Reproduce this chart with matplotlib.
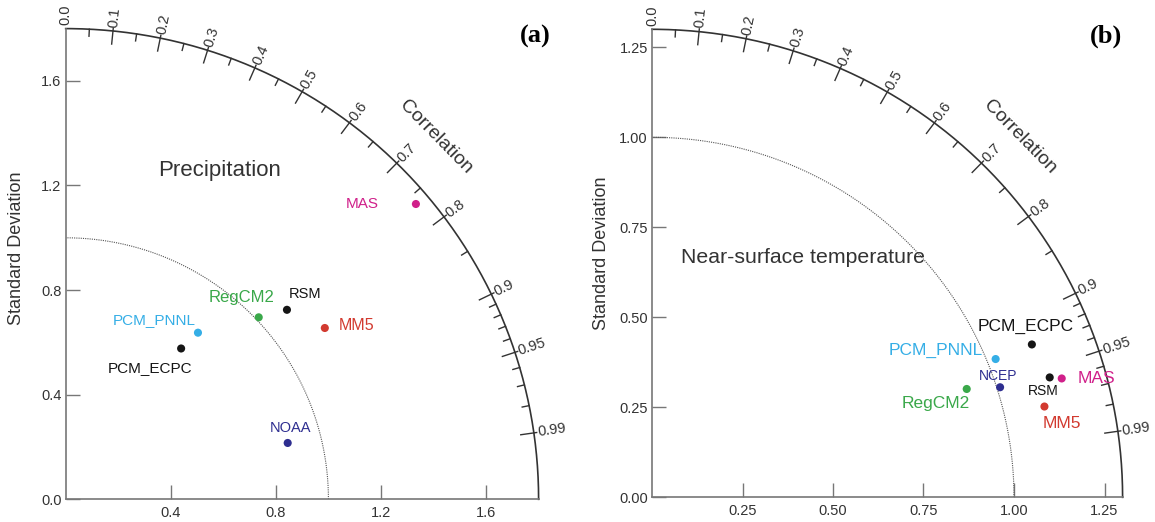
import numpy as np
import matplotlib.pyplot as plt

plt.rcParams['font.family'] = ['Liberation Sans', 'DejaVu Sans']

## panel (a): precipitation
prec_models = ['MAS', 'PCM_PNNL', 'PCM_ECPC', 'RegCM2', 'RSM', 'MM5', 'NOAA']
prec_std = [1.747, 0.812, 0.725, 1.012, 1.111, 1.184, 0.872]
prec_corr = [0.763, 0.620, 0.606, 0.726, 0.758, 0.833, 0.969]
prec_yticks = [0.0, 0.4, 0.8, 1.2, 1.6]
prec_xticks = [0.4, 0.8, 1.2, 1.6]

## panel (b): near-surface temperature
temp_models = ['PCM_ECPC', 'PCM_PNNL', 'NCEP', 'RegCM2', 'RSM', 'MAS', 'MM5']
temp_std = [1.132, 1.024, 1.009, 0.920, 1.148, 1.179, 1.113]
temp_corr = [0.927, 0.927, 0.953, 0.945, 0.957, 0.960, 0.974]
temp_yticks = [0.0, 0.25, 0.5, 0.75, 1.0, 1.25]
temp_xticks = [0.25, 0.5, 0.75, 1.0, 1.25]

## correlation axis
corr_major = [0.0, 0.1, 0.2, 0.3, 0.4, 0.5, 0.6, 0.7, 0.8, 0.9, 0.95, 0.99]
corr_labels = ['0.0', '0.1', '0.2', '0.3', '0.4', '0.5', '0.6', '0.7', '0.8', '0.9', '0.95', '0.99']
corr_minor = [0.05, 0.15, 0.25, 0.35, 0.45, 0.55, 0.65, 0.75, 0.85,
              0.91, 0.92, 0.93, 0.94, 0.96, 0.97, 0.98]

## colours per model
colors = {'MAS': '#d0208a', 'PCM_PNNL': '#35aee6', 'PCM_ECPC': '#151515',
          'RegCM2': '#3aa84a', 'RSM': '#151515', 'MM5': '#d23a30',
          'NOAA': '#2e2e90', 'NCEP': '#2e2e90'}

# label placement: (dx px, dy px, fontsize)
prec_lab = {'MAS': (-54, 0, 11), 'PCM_PNNL': (-44, 13, 11), 'PCM_ECPC': (-31, -20, 11),
            'RegCM2': (-17, 20, 12), 'RSM': (18, 16, 10.5), 'MM5': (32, 2, 11.5),
            'NOAA': (3, 15, 10.5)}
temp_lab = {'PCM_ECPC': (-6, 18, 12.5), 'PCM_PNNL': (-60, 9, 12.5), 'NCEP': (-2, 11, 10),
            'RegCM2': (-31, -15, 12.5), 'RSM': (-6, -14, 10), 'MAS': (35, 0, 12.5),
            'MM5': (17, -17, 12.5)}


def draw_panel(ax, rmax, yticks, xticks, fmt, models, std, corr, labs, title, title_xy, title_fs):
    ax.set_xlim(0, rmax)
    ax.set_ylim(0, rmax)
    for s in ['top', 'right']:
        ax.spines[s].set_visible(False)
    for s in ['left', 'bottom']:
        ax.spines[s].set_color('#777777')
        ax.spines[s].set_linewidth(1.2)
    ax.set_yticks(yticks)
    ax.set_yticklabels([fmt % v for v in yticks])
    ax.set_xticks(xticks)
    ax.set_xticklabels([fmt % v for v in xticks])
    ax.tick_params(direction='in', length=10, width=1, color='#777777',
                   labelsize=10.5, labelcolor='#333333')
    ax.tick_params(axis='x', pad=5)
    ax.tick_params(axis='y', pad=3)

    t = np.linspace(0, np.pi / 2, 400)
    ax.plot(rmax * np.cos(t), rmax * np.sin(t), color='#333333', lw=1.2, clip_on=False)
    ax.plot(np.cos(t), np.sin(t), color='#555555', lw=0.8, ls=(0, (1, 1)))

    # correlation ticks
    for c in corr_minor:
        th = np.arccos(c)
        r = np.array([rmax * 0.985, rmax])
        ax.plot(r * np.cos(th), r * np.sin(th), color='#333333', lw=1, clip_on=False)
    for c in corr_major[1:]:
        th = np.arccos(c)
        r = np.array([rmax * 0.972, rmax * 1.006])
        ax.plot(r * np.cos(th), r * np.sin(th), color='#333333', lw=1, clip_on=False)
    for c, lab in zip(corr_major, corr_labels):
        th = np.arccos(c)
        x, y = rmax * 1.008 * np.cos(th), rmax * 1.008 * np.sin(th)
        p0 = ax.transData.transform((0, 0))
        p1 = ax.transData.transform((np.cos(th), np.sin(th)))
        ang = np.degrees(np.arctan2(p1[1] - p0[1], p1[0] - p0[0]))
        ax.text(x, y, lab, rotation=ang, rotation_mode='anchor', ha='left', va='center',
                fontsize=10.5, color='#333333', clip_on=False)
    th = np.radians(44.5)
    ax.text(1.097 * rmax * np.cos(th), 1.097 * rmax * np.sin(th), 'Correlation',
            rotation=-45.5, rotation_mode='anchor', ha='center', va='center',
            fontsize=14, color='#333333', clip_on=False)

    ax.text(title_xy[0], title_xy[1], title, ha='center', va='center',
            fontsize=title_fs, color='#333333')

    # models
    for m, s, c in zip(models, std, corr):
        x = s * c
        y = s * np.sqrt(1 - c ** 2)
        ax.scatter([x], [y], s=34, color=colors[m], edgecolors='none', zorder=3, clip_on=False)
        dx, dy, fs = labs[m]
        ax.annotate(m, (x, y), xytext=(dx, dy), textcoords='offset pixels',
                    ha='center', va='center', fontsize=fs, color=colors[m])


fig = plt.figure(figsize=(11.55, 5.22), dpi=100)
ax1 = fig.add_axes([65.7 / 1155, 22.7 / 522, 472.9 / 1155, 470.7 / 522])
ax2 = fig.add_axes([652.0 / 1155, 24.7 / 522, 470.6 / 1155, 468.0 / 522])

draw_panel(ax1, 1.8, prec_yticks, prec_xticks, '%.1f', prec_models, prec_std, prec_corr,
           prec_lab, 'Precipitation', (0.587, 1.259), 16)
draw_panel(ax2, 1.3, temp_yticks, temp_xticks, '%.2f', temp_models, temp_std, temp_corr,
           temp_lab, 'Near-surface temperature', (0.416, 0.665), 15.3)

fig.text(17 / 1155, 1 - 248.5 / 522, 'Standard Deviation', rotation=90, ha='center',
         va='center', fontsize=13, color='#333333')
fig.text(601.5 / 1155, 1 - 253.5 / 522, 'Standard Deviation', rotation=90, ha='center',
         va='center', fontsize=13, color='#333333')
fig.text(535 / 1155, 1 - 36 / 522, '(a)', ha='center', va='center', fontsize=19,
         fontweight='bold', family=['Liberation Serif', 'DejaVu Serif'])
fig.text(1106 / 1155, 1 - 36 / 522, '(b)', ha='center', va='center', fontsize=19,
         fontweight='bold', family=['Liberation Serif', 'DejaVu Serif'])

fig.savefig('out.png', dpi=100)
